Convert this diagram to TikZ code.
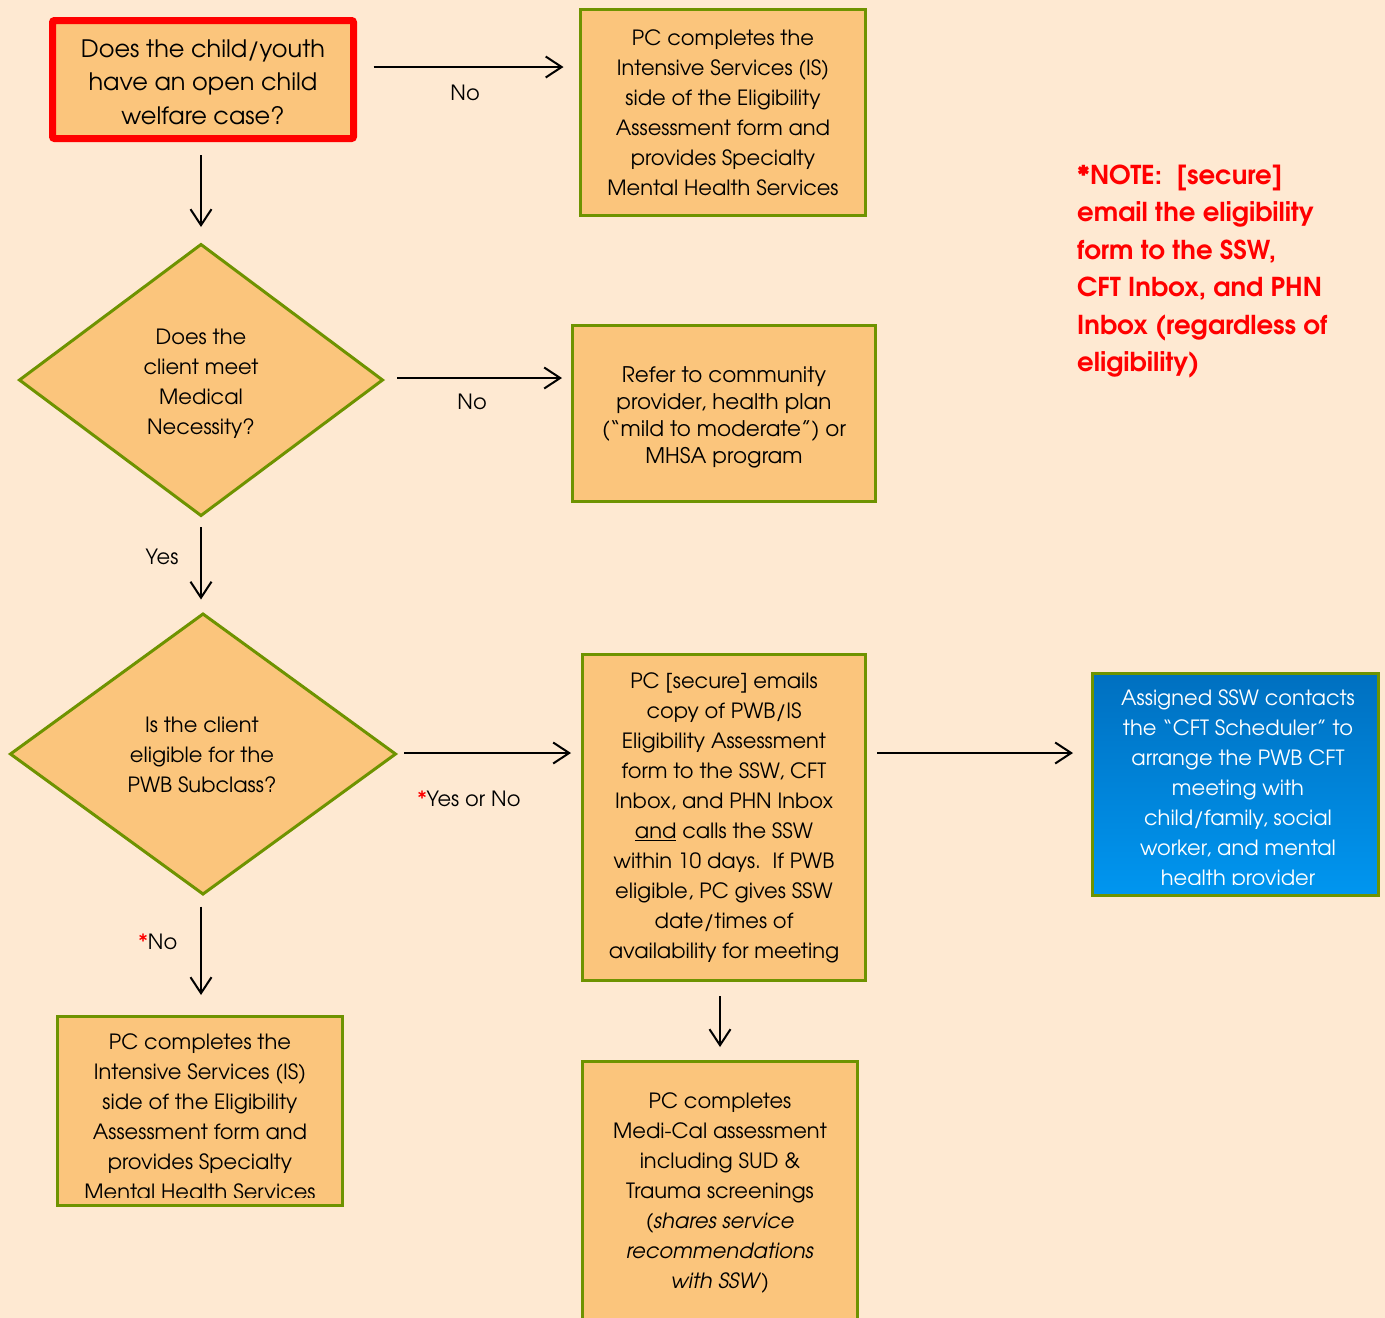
\documentclass[tikz,border=0pt]{standalone}
\usepackage{fontspec}
\setmainfont{TeX Gyre Adventor}
\usetikzlibrary{arrows.meta,shapes.geometric}
\definecolor{bg}{HTML}{FEE9D2}
\definecolor{boxfill}{HTML}{FBC57C}
\definecolor{olivec}{HTML}{6E9300}
\definecolor{blueTop}{HTML}{0070C0}
\definecolor{blueBot}{HTML}{0096F0}
\begin{document}
\begin{tikzpicture}[x=1pt,y=-1pt,
  box/.style={draw=olivec, line width=3pt, fill=boxfill, rectangle, inner sep=0pt, outer sep=0pt},
  dia/.style={draw=olivec, line width=3pt, fill=boxfill, diamond, inner sep=0pt, outer sep=0pt},
  txt/.style={align=center, inner sep=0pt, font=\fontsize{21}{30}\selectfont},
  arr/.style={-{Straight Barb[length=16pt,width=21pt,line width=2pt]}, line width=2pt},
  lab/.style={font=\fontsize{21}{25}\selectfont, inner sep=0pt}]
\clip (0,0) rectangle (1385,1318);
\fill[bg] (0,0) rectangle (1385,1318);

% boxes
\node[box, draw=red, line width=7pt, rounded corners=2pt, minimum width=301pt, minimum height=118pt] (b1) at (203,79.5) {};
\node[txt, font=\fontsize{24}{33.5}\selectfont] (t1) at (203,82) {Does the child/youth\\have an open child\\welfare case?};

\node[box, minimum width=285pt, minimum height=206pt] (b2) at (723,112.5) {};
\node[txt] (t2) at (723,113) {PC completes the\\Intensive Services (IS)\\side of the Eligibility\\Assessment form and\\provides Specialty\\Mental Health Services};

\node[dia, minimum width=363pt, minimum height=271pt] (d1) at (201,380) {};
\node[txt] (t3) at (201,384) {Does the\\client meet\\Medical\\Necessity?};

\node[box, minimum width=303pt, minimum height=176pt] (b3) at (724,413.5) {};
\node[txt, font=\fontsize{21.5}{27}\selectfont] (t4) at (724,417.5) {Refer to community\\provider, health plan\\(“mild to moderate”) or\\MHSA program};

\node[dia, minimum width=385pt, minimum height=280pt] (d2) at (203,754) {};
\node[txt] (t5) at (202,755) {Is the client\\eligible for the\\PWB Subclass?};

\node[box, minimum width=283pt, minimum height=326pt] (b4) at (724,817.5) {};
\node[txt] (t6) at (724,818) {PC [secure] emails\\copy of PWB/IS\\Eligibility Assessment\\form to the SSW, CFT\\Inbox, and PHN Inbox\\\underline{and} calls the SSW\\within 10 days.\ \ If PWB\\eligible, PC gives SSW\\date/times of\\availability for meeting};

\node[box, top color=blueTop, bottom color=blueBot, minimum width=286pt, minimum height=222pt] (bl) at (1235.5,784.5) {};
\begin{scope}
\clip (1093,674) rectangle (1378,884);
\node[txt, text=white] (t7) at (1238,790) {Assigned SSW contacts\\the “CFT Scheduler” to\\arrange the PWB CFT\\meeting with\\child/family, social\\worker, and mental\\health provider};
\end{scope}

\node[box, minimum width=285pt, minimum height=189pt] (b5) at (200,1111) {};
\begin{scope}
\clip (58,1017) rectangle (342,1197);
\node[txt] (t8) at (200,1116.5) {PC completes the\\Intensive Services (IS)\\side of the Eligibility\\Assessment form and\\provides Specialty\\Mental Health Services};
\end{scope}

\node[box, minimum width=275pt, minimum height=267pt] (b6) at (720,1195) {};
\node[txt] (t9) at (720,1192.5) {PC completes\\Medi-Cal assessment\\including SUD \&\\Trauma screenings\\(\textit{shares service}\\\textit{recommendations}\\\textit{with SSW})};

% note
\node[anchor=north west, align=left, inner sep=0pt, text=red, font=\bfseries\fontsize{26}{37.5}\selectfont] (note) at (1077,164.5) {*NOTE:\ \ [secure]\\email the eligibility\\form to the SSW,\\CFT Inbox, and PHN\\Inbox (regardless of\\eligibility)};

% connectors
\draw[arr, shorten <=20pt, shorten >=17pt] ([yshift=12.5pt]b1.east) -- ([yshift=12.5pt]b1.east -| b2.west);
\node[lab] (l1) at (465,93) {No};
\draw[arr, shorten <=16.5pt, shorten >=17.5pt] (b1.south -| d1.north) -- (d1.north);
\draw[arr, shorten <=14.5pt, shorten >=10.5pt] ([yshift=2pt]d1.east) -- ([yshift=2pt]d1.east -| b3.west);
\node[lab] (l2) at (472,402) {No};
\draw[arr, shorten <=11.5pt, shorten >=14.5pt] (d1.south) -- (d1.south |- d2.north);
\node[lab] (l3) at (162,557) {Yes};
\draw[arr, shorten <=8.5pt, shorten >=11.5pt] ([yshift=1pt]d2.east) -- ([yshift=1pt]d2.east -| b4.west);
\node[lab] (l4) at (469,799) {\textcolor{red}{*}Yes or No};
\draw[arr, shorten <=11.5pt, shorten >=19.5pt] ([yshift=64.5pt]b4.east) -- ([yshift=64.5pt]b4.east -| bl.west);
\draw[arr, shorten <=12.5pt, shorten >=21.5pt] ([xshift=-2pt]d2.south) -- ([xshift=-2pt]d2.south |- b5.north);
\node[lab] (l5) at (158,942) {\textcolor{red}{*}No};
\draw[arr, shorten <=15.5pt, shorten >=14.5pt] (b4.south -| b6.north) -- (b6.north);
\end{tikzpicture}
\end{document}
